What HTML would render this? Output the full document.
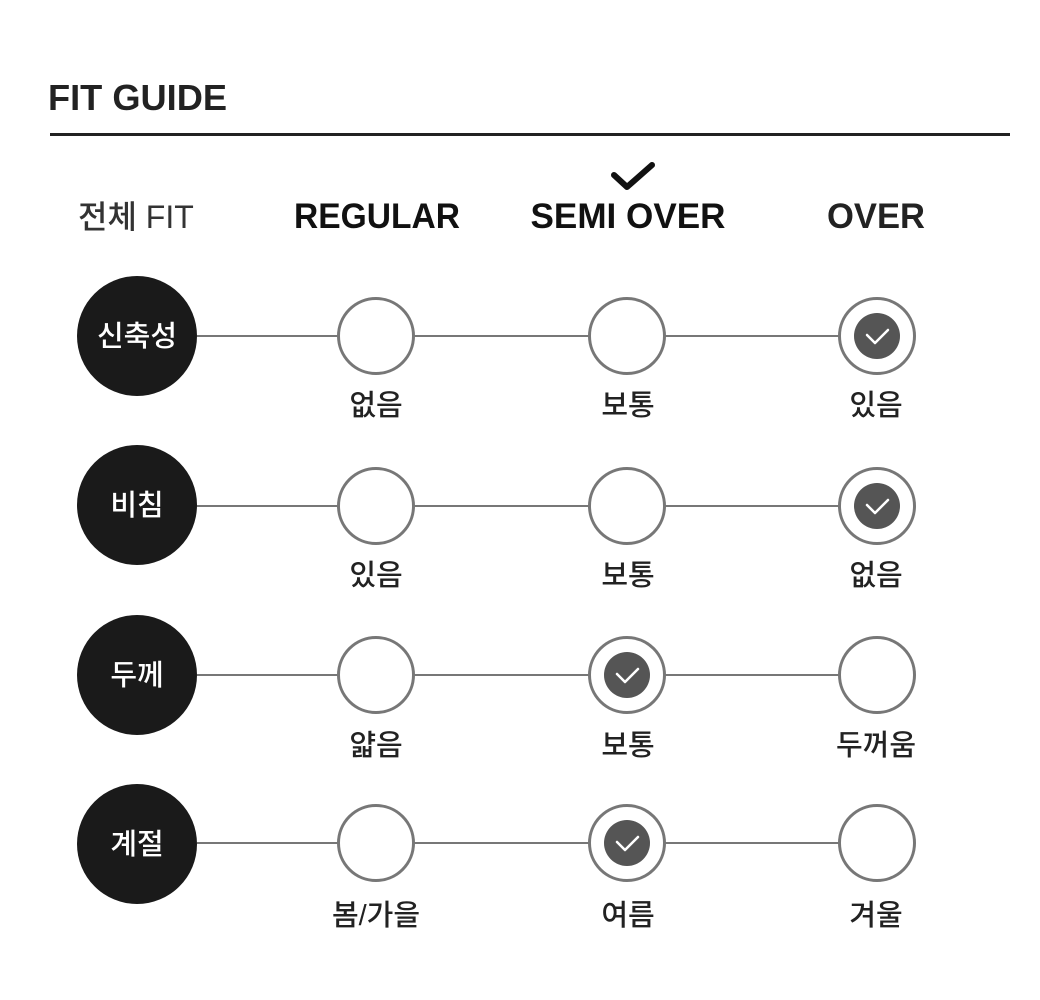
<!DOCTYPE html>
<html><head><meta charset="utf-8"><style>
html,body{margin:0;padding:0;background:#fff;width:1040px;height:1000px;overflow:hidden}
text{font-family:"Liberation Sans","Noto Sans CJK KR",sans-serif}
</style></head><body>
<svg width="1040" height="1000" viewBox="0 0 1040 1000" xmlns="http://www.w3.org/2000/svg">
<text x="48" y="110" font-size="36" font-weight="bold" fill="#222" textLength="179" lengthAdjust="spacingAndGlyphs">FIT GUIDE</text>
<rect x="50" y="133" width="960" height="3" fill="#222"/>
<text x="78" y="228" font-size="32" fill="#333" font-weight="500">전체 <tspan>FIT</tspan></text>
<text x="377" y="228" font-size="35" font-weight="bold" fill="#111" text-anchor="middle" textLength="166" lengthAdjust="spacingAndGlyphs">REGULAR</text>
<text x="628" y="228" font-size="35" font-weight="bold" fill="#111" text-anchor="middle" textLength="195" lengthAdjust="spacingAndGlyphs">SEMI OVER</text>
<text x="876" y="228" font-size="35" font-weight="bold" fill="#222" text-anchor="middle" textLength="98" lengthAdjust="spacingAndGlyphs">OVER</text>
<path d="M614 175 L627 187 L652 165" stroke="#111" stroke-width="6" fill="none" stroke-linecap="round" stroke-linejoin="round"/>
<g id="rows" font-size="29" font-weight="500">
<line x1="197" y1="336" x2="840" y2="336" stroke="#777" stroke-width="2"/>
<circle cx="137" cy="336" r="60" fill="#1a1a1a"/>
<text x="137" y="346" fill="#fff" text-anchor="middle" font-size="29">신축성</text>
<circle cx="376" cy="336" r="37.5" fill="#fff" stroke="#777" stroke-width="3"/>
<circle cx="627" cy="336" r="37.5" fill="#fff" stroke="#777" stroke-width="3"/>
<circle cx="877" cy="336" r="37.5" fill="#fff" stroke="#777" stroke-width="3"/>
<circle cx="877" cy="336" r="23" fill="#555"/>
<path d="M867 335 L875 343 L888 330" stroke="#fff" stroke-width="2.5" fill="none" stroke-linecap="round" stroke-linejoin="round"/>
<text x="376" y="415" text-anchor="middle" fill="#222">없음</text>
<text x="628" y="415" text-anchor="middle" fill="#222">보통</text>
<text x="876" y="415" text-anchor="middle" fill="#222">있음</text>
<line x1="197" y1="506" x2="840" y2="506" stroke="#777" stroke-width="2"/>
<circle cx="137" cy="505" r="60" fill="#1a1a1a"/>
<text x="137" y="515" fill="#fff" text-anchor="middle">비침</text>
<circle cx="376" cy="506" r="37.5" fill="#fff" stroke="#777" stroke-width="3"/>
<circle cx="627" cy="506" r="37.5" fill="#fff" stroke="#777" stroke-width="3"/>
<circle cx="877" cy="506" r="37.5" fill="#fff" stroke="#777" stroke-width="3"/>
<circle cx="877" cy="506" r="23" fill="#555"/>
<path d="M867 505 L875 513 L888 500" stroke="#fff" stroke-width="2.5" fill="none" stroke-linecap="round" stroke-linejoin="round"/>
<text x="376" y="585" text-anchor="middle" fill="#222">있음</text>
<text x="628" y="585" text-anchor="middle" fill="#222">보통</text>
<text x="876" y="585" text-anchor="middle" fill="#222">없음</text>
<line x1="197" y1="675" x2="840" y2="675" stroke="#777" stroke-width="2"/>
<circle cx="137" cy="675" r="60" fill="#1a1a1a"/>
<text x="137" y="685" fill="#fff" text-anchor="middle">두께</text>
<circle cx="376" cy="675" r="37.5" fill="#fff" stroke="#777" stroke-width="3"/>
<circle cx="627" cy="675" r="37.5" fill="#fff" stroke="#777" stroke-width="3"/>
<circle cx="877" cy="675" r="37.5" fill="#fff" stroke="#777" stroke-width="3"/>
<circle cx="627" cy="675" r="23" fill="#555"/>
<path d="M617 674 L625 682 L638 669" stroke="#fff" stroke-width="2.5" fill="none" stroke-linecap="round" stroke-linejoin="round"/>
<text x="376" y="755" text-anchor="middle" fill="#222">얇음</text>
<text x="628" y="755" text-anchor="middle" fill="#222">보통</text>
<text x="876" y="755" text-anchor="middle" fill="#222">두꺼움</text>
<line x1="197" y1="843" x2="840" y2="843" stroke="#777" stroke-width="2"/>
<circle cx="137" cy="844" r="60" fill="#1a1a1a"/>
<text x="137" y="854" fill="#fff" text-anchor="middle">계절</text>
<circle cx="376" cy="843" r="37.5" fill="#fff" stroke="#777" stroke-width="3"/>
<circle cx="627" cy="843" r="37.5" fill="#fff" stroke="#777" stroke-width="3"/>
<circle cx="877" cy="843" r="37.5" fill="#fff" stroke="#777" stroke-width="3"/>
<circle cx="627" cy="843" r="23" fill="#555"/>
<path d="M617 842 L625 850 L638 837" stroke="#fff" stroke-width="2.5" fill="none" stroke-linecap="round" stroke-linejoin="round"/>
<text x="376" y="925" text-anchor="middle" fill="#222">봄/가을</text>
<text x="628" y="925" text-anchor="middle" fill="#222">여름</text>
<text x="876" y="925" text-anchor="middle" fill="#222">겨울</text>
</g>
</svg>
</body></html>
